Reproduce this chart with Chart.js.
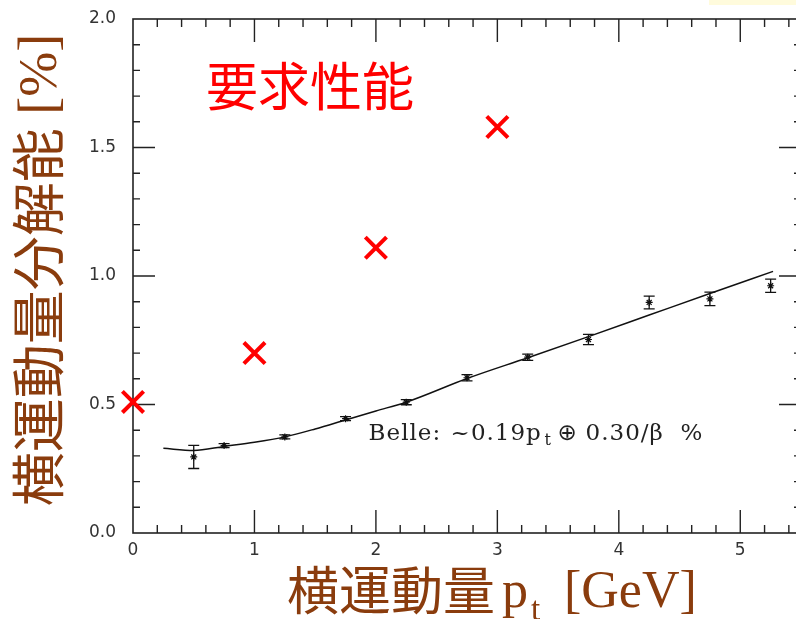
<!DOCTYPE html>
<html>
<head>
<meta charset="utf-8">
<script src="https://cdn.jsdelivr.net/npm/chart.js@4.4.1/dist/chart.umd.min.js"></script>
<style>
  html, body { margin: 0; padding: 0; background: #fff; overflow: hidden; }
  #wrap { position: relative; width: 1000px; height: 619px; }
</style>
</head>
<body>
<div id="wrap"><canvas id="c" width="822" height="619"></canvas></div>
<script>
// Measured transverse-momentum resolution (Belle), per pt bin [GeV]
const ptBins      = [0.5, 0.75, 1.25, 1.75, 2.25, 2.75, 3.25, 3.75, 4.25, 4.75, 5.25];
const measured    = [0.296, 0.340, 0.374, 0.445, 0.509, 0.604, 0.684, 0.753, 0.897, 0.911, 0.962];
const measuredErr = [0.045, 0.008, 0.008, 0.008, 0.010, 0.012, 0.012, 0.020, 0.025, 0.026, 0.026];

// Parametrised resolution curve  ~0.19 pt (+) 0.30/beta %
const fitPt  = [0.25, 0.5, 0.75, 1.0, 1.25, 1.5, 1.75, 2.0, 2.25, 2.75, 3.25, 3.75, 4.25, 4.75, 5.27];
const fitRes = [0.330, 0.321, 0.337, 0.353, 0.374, 0.405, 0.440, 0.475, 0.509, 0.601, 0.682, 0.764, 0.848, 0.932, 1.018];

// Required performance (要求性能)
const reqPt  = [0, 1, 2, 3];
const reqRes = [0.51, 0.70, 1.11, 1.58];

// Axis tick labels
const xTicks = [0, 1, 2, 3, 4, 5];
const yTicks = [0.0, 0.5, 1.0, 1.5, 2.0];

const BROWN = '#8a3c0d';
const CJK = '"Noto Sans CJK JP", "Noto Sans CJK SC", sans-serif';
const SERIF = '"Liberation Serif", "DejaVu Serif", serif';
const LABEL_SERIF = '"DejaVu Serif", serif';
const PLOT_RIGHT = 801;   // right edge of the frame in page pixels

// White page, pale yellow strip at the top right, then the boxed frame with inward ticks
const framePlugin = {
  id: 'frame',
  beforeDraw(chart) {
    const ctx = chart.ctx;
    ctx.save();
    ctx.fillStyle = '#ffffff';
    ctx.fillRect(0, 0, chart.width, chart.height);
    ctx.fillStyle = '#fffbdc';
    ctx.fillRect(709, 0, 200, 5);
    ctx.restore();
  },
  beforeDatasetsDraw(chart) {
    const { ctx, chartArea: a, scales: { x, y } } = chart;
    ctx.save();
    ctx.strokeStyle = '#222';
    ctx.lineWidth = 1.6;
    ctx.strokeRect(a.left, a.top, a.right - a.left, a.bottom - a.top);
    ctx.lineWidth = 1.4;
    ctx.beginPath();
    for (let i = 1; i <= 27; i++) {
      const v = i * 0.2;
      const major = Math.abs(v - Math.round(v)) < 1e-6;
      const len = major ? 23 : 8;
      const px = x.getPixelForValue(v);
      ctx.moveTo(px, a.bottom); ctx.lineTo(px, a.bottom - len);
      ctx.moveTo(px, a.top); ctx.lineTo(px, a.top + len);
    }
    for (let i = 1; i < 20; i++) {
      const v = i * 0.1;
      const major = i % 5 === 0;
      const len = major ? 22 : 7;
      const py = y.getPixelForValue(v);
      ctx.moveTo(a.left, py); ctx.lineTo(a.left + len, py);
      ctx.moveTo(a.right, py); ctx.lineTo(a.right - len, py);
    }
    ctx.stroke();
    ctx.restore();
  },
  afterDatasetsDraw(chart) {
    // error bars on the measured points
    const { ctx, scales: { x, y } } = chart;
    ctx.save();
    ctx.strokeStyle = '#111';
    ctx.lineWidth = 1.3;
    ctx.beginPath();
    ptBins.forEach((p, i) => {
      const px = x.getPixelForValue(p);
      const hi = y.getPixelForValue(measured[i] + measuredErr[i]);
      const lo = y.getPixelForValue(measured[i] - measuredErr[i]);
      ctx.moveTo(px, hi); ctx.lineTo(px, lo);
      ctx.moveTo(px - 5.5, hi); ctx.lineTo(px + 5.5, hi);
      ctx.moveTo(px - 5.5, lo); ctx.lineTo(px + 5.5, lo);
    });
    ctx.stroke();
    ctx.restore();
  },
  afterDraw(chart) {
    const { ctx, scales: { x, y } } = chart;
    ctx.save();
    ctx.textBaseline = 'alphabetic';

    // 要求性能
    ctx.fillStyle = '#ff0000';
    ctx.font = '52px ' + CJK;
    ctx.fillText('要求性能', 206, 106);

    // fit label
    ctx.fillStyle = '#222';
    const bx = x.getPixelForValue(1.94);
    const by = y.getPixelForValue(0.36);
    ctx.letterSpacing = '1px';
    ctx.font = '23px ' + LABEL_SERIF;
    ctx.fillText('Belle:', bx, by);
    ctx.fillText('~0.19p', bx + 82, by);
    ctx.font = '16px ' + LABEL_SERIF;
    ctx.fillText('t', bx + 176, by + 5);
    ctx.letterSpacing = '0px';
    ctx.font = '23px "DejaVu Sans", sans-serif';
    ctx.fillText('\u2295', bx + 189, by);
    ctx.letterSpacing = '1px';
    ctx.font = '23px ' + LABEL_SERIF;
    ctx.fillText('0.30/\u03B2', bx + 217, by);
    ctx.fillText('%', bx + 312, by);
    ctx.letterSpacing = '0px';

    // x-axis title
    ctx.fillStyle = BROWN;
    ctx.font = '52px ' + CJK;
    ctx.fillText('横運動量', 287, 610);
    ctx.font = '52px ' + SERIF;
    ctx.fillText('p', 502, 607);
    const pw = ctx.measureText('p').width;
    ctx.font = '33px ' + SERIF;
    ctx.fillText('t', 502 + pw + 3, 620);
    ctx.font = '52px ' + SERIF;
    ctx.fillText('[GeV]', 564, 607);

    // y-axis title (rotated)
    ctx.translate(59, 270);
    ctx.rotate(-Math.PI / 2);
    ctx.font = '54px ' + CJK;
    const cjk = '横運動量分解能';
    const w1 = ctx.measureText(cjk).width;
    ctx.font = '54px ' + SERIF;
    const w2 = ctx.measureText(' [%]').width;
    const start = -(w1 + w2) / 2;
    ctx.font = '54px ' + CJK;
    ctx.fillText(cjk, start, 0);
    ctx.font = '54px ' + SERIF;
    ctx.fillText(' [%]', start + w1, -3);

    ctx.restore();
  }
};

const tickFont = { family: '"DejaVu Sans", sans-serif', size: 17 };
const noPad = s => { s.paddingLeft = 0; s.paddingRight = 0; s.paddingTop = 0; s.paddingBottom = 0; };

const chart = new Chart(document.getElementById('c'), {
  data: {
    datasets: [
      {
        type: 'line',
        data: fitPt.map((p, i) => ({ x: p, y: fitRes[i] })),
        borderColor: '#111',
        borderWidth: 1.5,
        pointRadius: 0,
        cubicInterpolationMode: 'monotone',
        fill: false
      },
      {
        type: 'scatter',
        data: ptBins.map((p, i) => ({ x: p, y: measured[i] })),
        pointStyle: 'star',
        pointRadius: 3.5,
        borderColor: '#111',
        backgroundColor: '#111',
        borderWidth: 1.2
      },
      {
        type: 'scatter',
        data: reqPt.map((p, i) => ({ x: p, y: reqRes[i] })),
        pointStyle: 'crossRot',
        pointRadius: 15,
        borderColor: '#ff0000',
        backgroundColor: '#ff0000',
        borderWidth: 4,
        clip: false
      }
    ]
  },
  options: {
    responsive: false,
    maintainAspectRatio: false,
    animation: false,
    devicePixelRatio: 1,
    layout: { padding: { top: 17, right: 1, left: 0, bottom: 0 } },
    plugins: { legend: { display: false }, tooltip: { enabled: false } },
    scales: {
      x: {
        type: 'linear', min: 0, max: 5.5,
        grid: { display: false, drawTicks: false },
        border: { display: false },
        afterBuildTicks: s => { s.ticks = xTicks.map(v => ({ value: v })); },
        afterFit: s => { s.height = 86; noPad(s); },
        ticks: { padding: 7, color: '#333', font: tickFont, maxRotation: 0, callback: v => String(v) }
      },
      y: {
        type: 'linear', min: 0, max: 2,
        grid: { display: false, drawTicks: false },
        border: { display: false },
        afterBuildTicks: s => { s.ticks = yTicks.map(v => ({ value: v })); },
        afterFit: s => { s.width = 133; noPad(s); },
        ticks: { padding: 17, color: '#333', font: tickFont, callback: v => Number(v).toFixed(1) }
      }
    }
  },
  plugins: [framePlugin]
});

// widen the canvas until the frame's right edge lands where wanted
for (let k = 0; k < 4; k++) {
  const diff = PLOT_RIGHT - chart.chartArea.right;
  if (Math.abs(diff) < 0.5) break;
  chart.resize(Math.round(chart.width + diff), 619);
}
</script>
</body>
</html>
